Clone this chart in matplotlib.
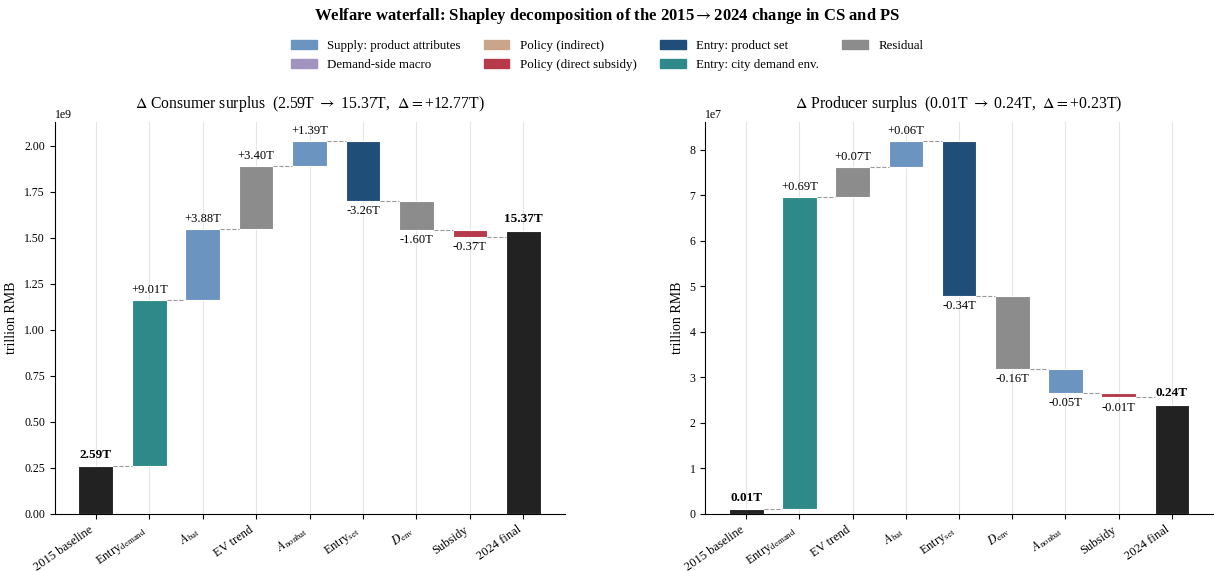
import matplotlib
matplotlib.use("Agg")
import matplotlib.pyplot as plt
import numpy as np
from matplotlib.patches import Patch

plt.rcParams['font.family'] = ['Liberation Serif', 'DejaVu Serif']
plt.rcParams['mathtext.fontset'] = 'stix'

UNIT = 1e8  # raw surplus units per displayed "T"

COLORS = {
    'supply': '#6b94c1',
    'macro': '#a393bf',
    'policy_ind': '#c9a68a',
    'subsidy': '#b73a4b',
    'entry_set': '#1f4e79',
    'entry_dem': '#2e8a89',
    'residual': '#8c8c8c',
    'total': '#222222',
}

LEGEND_KEYS = ['supply', 'macro', 'policy_ind', 'subsidy', 'entry_set', 'entry_dem', 'residual']
LEGEND_LABELS = ['Supply: product attributes', 'Demand-side macro', 'Policy (indirect)',
                 'Policy (direct subsidy)', 'Entry: product set', 'Entry: city demand env.',
                 'Residual']

# consumer surplus (in T)
cs_base = 2.59
cs_final = 15.37
cs_labels = [r'Entry$_{\rm demand}$', r'$A_{\rm bat}$', 'EV trend', r'$A_{\rm nonbat}$',
             r'Entry$_{\rm set}$', r'$D_{\rm env}$', 'Subsidy']
cs_deltas = [9.01, 3.88, 3.40, 1.39, -3.26, -1.60, -0.37]
cs_groups = ['entry_dem', 'supply', 'residual', 'supply', 'entry_set', 'residual', 'subsidy']

# producer surplus (in T)
ps_base = 0.010
ps_final = 0.240
ps_labels = [r'Entry$_{\rm demand}$', 'EV trend', r'$A_{\rm bat}$', r'Entry$_{\rm set}$',
             r'$D_{\rm env}$', r'$A_{\rm nonbat}$', 'Subsidy']
ps_deltas = [0.686, 0.067, 0.057, -0.340, -0.162, -0.052, -0.010]
ps_groups = ['entry_dem', 'residual', 'supply', 'entry_set', 'residual', 'supply', 'subsidy']

VAL_FS = 9
TICK_FS = 8.5


def waterfall(ax, base, final, labels, deltas, groups, title):
    width = 0.65
    n = len(deltas) + 2
    x = np.arange(n)
    ax.set_axisbelow(True)
    ax.grid(axis='x', color='#e6e6e6', lw=0.8)

    # baseline
    ax.bar(0, base * UNIT, width, color=COLORS['total'], edgecolor='white', lw=0.8)
    ax.annotate(f'{base:.2f}T', (0, base * UNIT), xytext=(0, 4),
                textcoords='offset points', ha='center', va='bottom', fontsize=VAL_FS + 0.5,
                fontweight='bold')
    cum = base
    level = [base]
    for i, (d, g) in enumerate(zip(deltas, groups), start=1):
        bottom = cum if d >= 0 else cum + d
        ax.bar(i, abs(d) * UNIT, width, bottom=bottom * UNIT, color=COLORS[g],
               edgecolor='white', lw=0.8)
        if d >= 0:
            ax.annotate(f'+{d:.2f}T', (i, (cum + d) * UNIT), xytext=(0, 3),
                        textcoords='offset points', ha='center', va='bottom', fontsize=VAL_FS)
        else:
            ax.annotate(f'{d:.2f}T', (i, (cum + d) * UNIT), xytext=(0, -3),
                        textcoords='offset points', ha='center', va='top', fontsize=VAL_FS)
        cum += d
        level.append(cum)

    ax.bar(n - 1, final * UNIT, width, color=COLORS['total'], edgecolor='white', lw=0.8)
    ax.annotate(f'{final:.2f}T', (n - 1, final * UNIT), xytext=(0, 4),
                textcoords='offset points', ha='center', va='bottom', fontsize=VAL_FS + 0.5,
                fontweight='bold')

    # connectors between consecutive bars
    for i, lv in enumerate(level):
        ax.plot([i + width / 2, i + 1 - width / 2], [lv * UNIT, lv * UNIT],
                ls='--', color='#999999', lw=0.8)

    top = max(max(level), final) * UNIT
    ax.set_ylim(0, top * 1.05)
    ax.set_xlim(-0.77, n - 0.23)
    ax.set_xticks(x)
    ax.set_xticklabels(['2015 baseline'] + labels + ['2024 final'], rotation=35,
                       ha='right', fontsize=9)
    ax.tick_params(axis='y', labelsize=TICK_FS)
    ax.yaxis.get_offset_text().set_fontsize(TICK_FS)
    ax.set_ylabel('trillion RMB', fontsize=10)
    ax.set_title(title, fontsize=11.3, pad=10)
    ax.spines['top'].set_visible(False)
    ax.spines['right'].set_visible(False)


fig = plt.figure(figsize=(12.14, 5.71), dpi=100)
ax1 = fig.add_axes([0.045, 0.1, 0.42, 0.686])
ax2 = fig.add_axes([0.581, 0.1, 0.418, 0.686])

waterfall(ax1, cs_base, cs_final, cs_labels, cs_deltas, cs_groups,
          r'$\Delta$ Consumer surplus  (2.59T $\rightarrow$ 15.37T,  $\Delta = $+12.77T)')
waterfall(ax2, ps_base, ps_final, ps_labels, ps_deltas, ps_groups,
          r'$\Delta$ Producer surplus  (0.01T $\rightarrow$ 0.24T,  $\Delta = $+0.23T)')

handles = [Patch(color=COLORS[k]) for k in LEGEND_KEYS]
fig.legend(handles, LEGEND_LABELS, loc='upper center', ncol=4, frameon=False,
           bbox_to_anchor=(0.5, 0.95), fontsize=9.3, columnspacing=1.8)
fig.suptitle(r'Welfare waterfall: Shapley decomposition of the 2015$\rightarrow$2024 change in CS and PS',
             fontsize=12, fontweight='bold', y=0.99)

fig.savefig('out.png', dpi=100)
